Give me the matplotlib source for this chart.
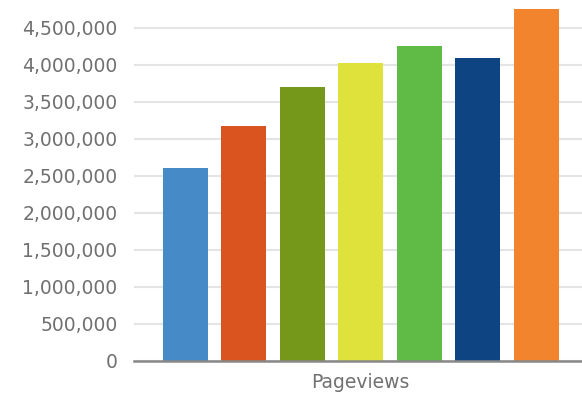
import matplotlib.pyplot as plt
from matplotlib.ticker import FuncFormatter

# pageviews per bar, left to right
labels = ['A', 'B', 'C', 'D', 'E', 'F', 'G']
pageviews = [2610000, 3180000, 3700000, 4020000, 4260000, 4100000, 4760000]
colors = ['#468bc8', '#d9541e', '#76981a', '#dfe23a', '#5fba46', '#0e4481', '#f2842d']
yticks = [0, 500000, 1000000, 1500000, 2000000, 2500000, 3000000, 3500000, 4000000, 4500000]

fig = plt.figure(figsize=(5.82, 3.94), dpi=100)
ax = fig.add_axes([134 / 582, 33 / 394, 1 - 134 / 582, 361 / 394])

x = list(range(len(pageviews)))
ax.bar(x, pageviews, width=0.77, color=colors, zorder=3)

ax.set_xlim(-0.88, 6.786)
ax.set_ylim(0, 4878000)
ax.set_yticks(yticks)
ax.yaxis.set_major_formatter(FuncFormatter(lambda v, p: f'{int(v):,}'))
ax.grid(axis='y', color='#e4e4e4', linewidth=1.5, zorder=0)

ax.set_xticks([3])
ax.set_xticklabels(['Pageviews'])
ax.tick_params(axis='x', length=0, pad=9, labelsize=13.5, labelcolor='#707070')
ax.tick_params(axis='y', length=0, pad=12, labelsize=13.5, labelcolor='#707070')

for side in ['top', 'right', 'left']:
    ax.spines[side].set_visible(False)
ax.spines['bottom'].set_color('#888888')
ax.spines['bottom'].set_linewidth(1.8)
ax.spines['bottom'].set_zorder(4)

fig.savefig('out.png', dpi=100)
